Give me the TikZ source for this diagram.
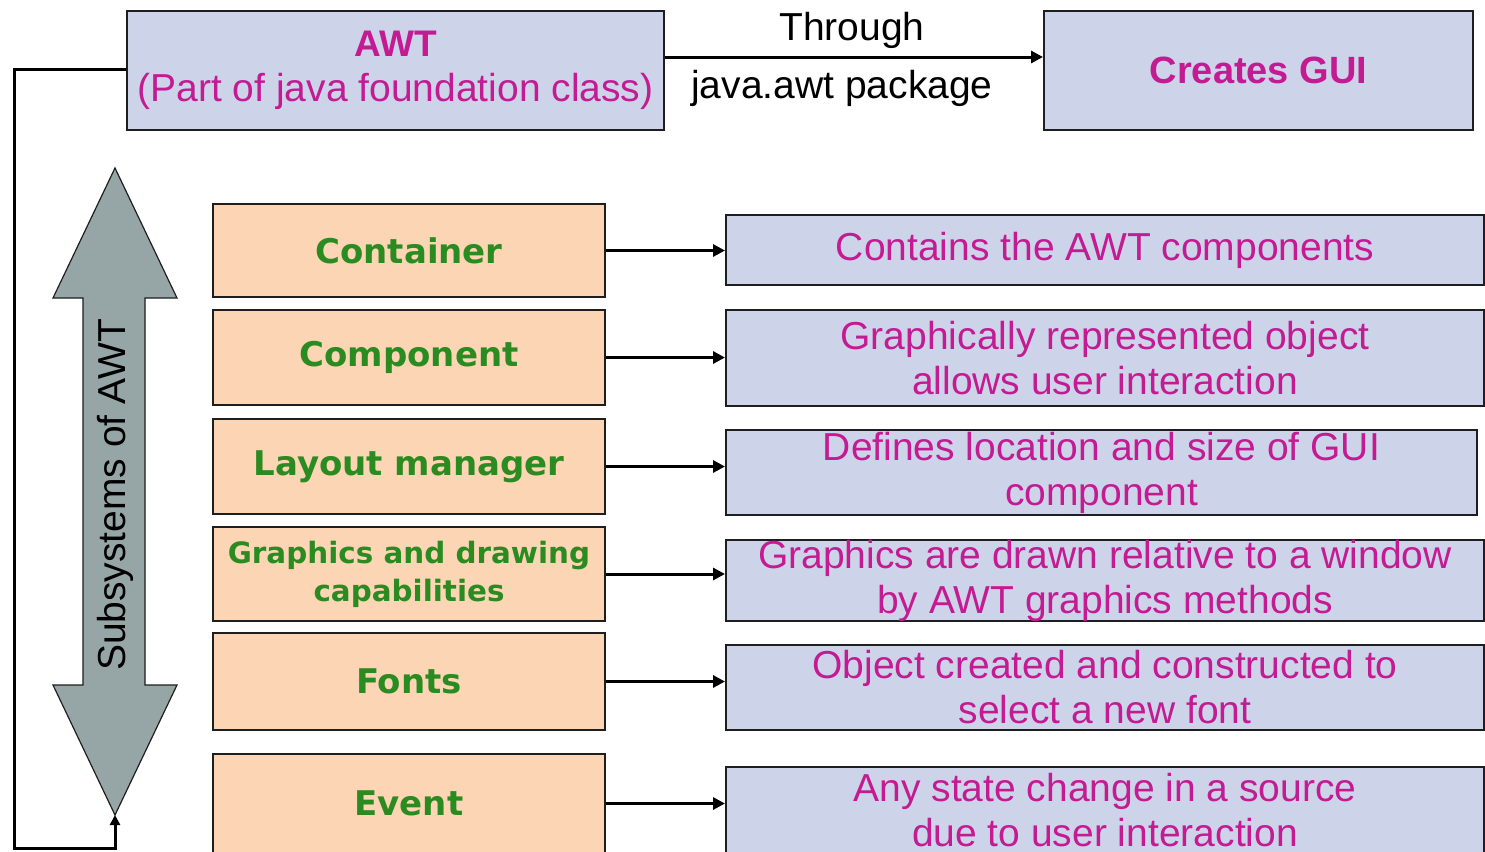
\documentclass[tikz,border=0pt]{standalone}
\usepackage{fontspec}
\setmainfont{Liberation Sans}
\newfontfamily\greenfont{DejaVu Sans}
\usetikzlibrary{arrows.meta}
\definecolor{lav}{RGB}{205,212,234}
\definecolor{peach}{RGB}{252,213,181}
\definecolor{mag}{RGB}{196,26,146}
\definecolor{grn}{RGB}{42,140,32}
\definecolor{agray}{RGB}{150,166,167}
\definecolor{bord}{RGB}{30,30,30}
\begin{document}
\begin{tikzpicture}[x=0.5pt,y=-0.5pt,
  bluebox/.style={draw=bord,line width=1pt,fill=lav,inner sep=0pt,align=center,text=mag,
    font=\fontsize{19.5}{22.5}\selectfont},
  peachbox/.style={draw=bord,line width=1pt,fill=peach,inner sep=0pt,align=center,text=grn,
    font=\greenfont\bfseries\fontsize{17}{19}\selectfont},
  conn/.style={line width=1.5pt,-{Triangle[length=6pt,width=6pt]}},
  plain/.style={font=\fontsize{19.5}{22.5}\selectfont,inner sep=0pt}]
\useasboundingbox (0,0) rectangle (1485,852);
\fill[white] (0,0) rectangle (1485,852);
% top row
\node[bluebox,minimum width=268.5pt,minimum height=59.5pt] (awt) at (395.5,70.5)
  {{\bfseries\fontsize{18.5}{22}\selectfont AWT}\\(Part of java foundation class)};
\node[bluebox,minimum width=214.5pt,minimum height=59.5pt,font=\bfseries\fontsize{19}{22}\selectfont] (gui) at (1258.5,70.5) {Creates GUI};
\draw[conn] (awt.east |- 0,57) -- (gui.west |- 0,57);
\node[plain] (thr) at (852,30) {Through};
\node[plain] (pkg) at (842,88) {java.awt package};
% double arrow
\filldraw[fill=agray,draw=bord,line width=0.6pt] (115,168) -- (177,298) -- (145,298) -- (145,685) -- (177,685) -- (115,815)
  -- (53,685) -- (83,685) -- (83,298) -- (53,298) -- cycle;
\node[plain,rotate=90] (sub) at (115,495) {Subsystems of AWT};
\coordinate (tip) at (115,815);
% left boxes
\node[peachbox,minimum width=196pt,minimum height=46.5pt] (l1) at (409,250.5) {Container};
\node[peachbox,minimum width=196pt,minimum height=47.5pt] (l2) at (409,357.5) {Component};
\node[peachbox,minimum width=196pt,minimum height=47.5pt] (l3) at (409,466.5) {Layout manager};
\node[peachbox,minimum width=196pt,minimum height=47pt,font=\greenfont\bfseries\fontsize{14.7}{19}\selectfont] (l4) at (409,574) {Graphics and drawing\\capabilities};
\node[peachbox,minimum width=196pt,minimum height=48.5pt] (l5) at (409,681.5) {Fonts};
\node[peachbox,minimum width=196pt,minimum height=49.5pt] (l6) at (409,803.5) {Event};
% right boxes
\node[bluebox,minimum width=379pt,minimum height=35pt] (r1) at (1105,250) {Contains the AWT components};
\node[bluebox,minimum width=379pt,minimum height=48pt] (r2) at (1105,358) {Graphically represented object\\allows user interaction};
\node[bluebox,minimum width=375.5pt,minimum height=42.5pt] (r3) at (1101.5,472.5) {Defines location and size of GUI\\component};
\node[bluebox,minimum width=379pt,minimum height=40.5pt] (r4) at (1105,580.5) {Graphics are drawn relative to a window\\by AWT graphics methods};
\node[bluebox,minimum width=379pt,minimum height=42.5pt] (r5) at (1105,687.5) {Object created and constructed to\\select a new font};
\node[bluebox,minimum width=379pt,minimum height=43pt] (r6) at (1105,810) {Any state change in a source\\due to user interaction};
% connectors
\foreach \i in {1,...,6}{\draw[conn] (l\i.east) -- (l\i.east -| r\i.west);}
% loop from AWT to arrow
\draw[line width=1.5pt,-{Triangle[length=5pt,width=5pt]}] (awt.west |- 0,69) -- (14,69) -- (14,848) -- (115,848) -- (tip);
\end{tikzpicture}
\end{document}
